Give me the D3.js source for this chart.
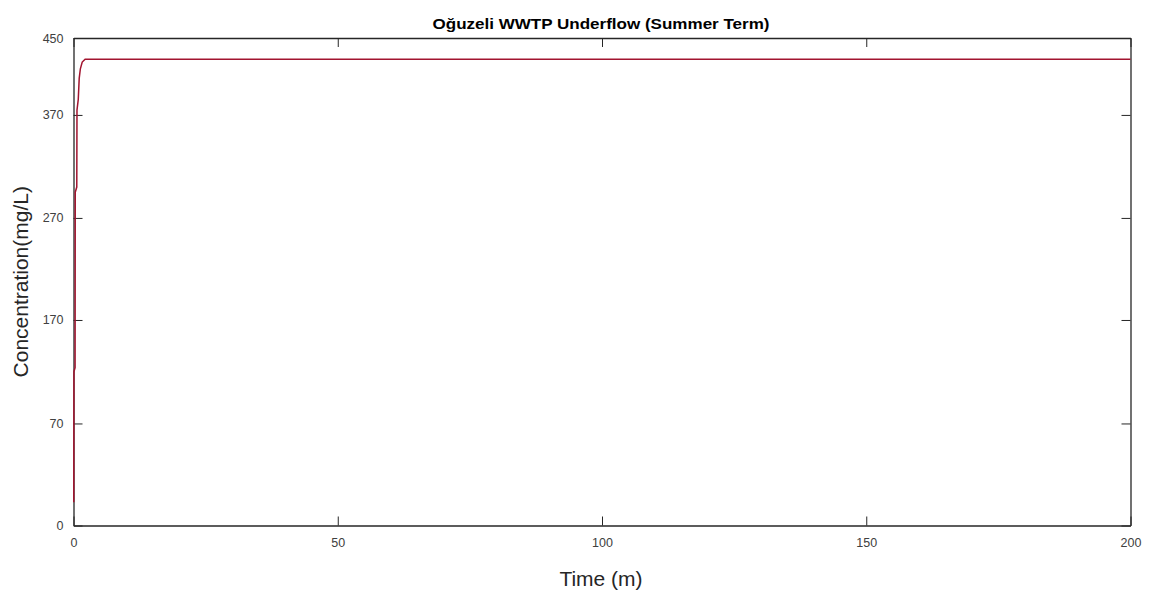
<!DOCTYPE html>
<html>
<head>
<meta charset="utf-8">
<script src="https://cdn.jsdelivr.net/npm/d3@7"></script>
<style>
  body { margin: 0; background: #fff; }
  svg { display: block; }
  text { font-family: "Liberation Sans", Arial, Helvetica, sans-serif; }
</style>
</head>
<body>
<svg id="chart" width="1153" height="592"></svg>
<script>
// Underflow concentration over time
const time = [0.05, 0.08, 0.30, 0.33, 0.62, 0.66, 0.90, 1.08, 1.30, 1.65, 2.2, 10, 50, 100, 150, 200];
const concentration = [16, 120, 124, 295, 300, 375, 386, 408, 418, 425, 428, 428, 428, 428, 428, 428];

const xTicks = [0, 50, 100, 150, 200];
const yTicks = [0, 70, 170, 270, 370, 450];
// vertical placement of each labelled tick, as fractions of the plot height
const yTickFrac = [0, 0.2093, 0.4216, 0.6309, 0.8422, 1];

const titleText = "Oğuzeli WWTP Underflow (Summer Term)";
const xLabel = "Time (m)";
const yLabel = "Concentration(mg/L)";

const W = 1153, H = 592;
const m = { left: 73.5, right: 22.5, top: 38, bottom: 66.5 };
const svg = d3.select("#chart");

const plotH = H - m.bottom - m.top;
const x = d3.scaleLinear().domain([0, 200]).range([m.left, W - m.right]);
// piecewise-linear value scale through the labelled ticks
const y = d3.scaleLinear().domain(yTicks).range(yTickFrac.map(f => H - m.bottom - f * plotH));

const axisColor = "#262626";
const tickLen = 9;

const gx = svg.append("g").attr("transform", `translate(0,${H - m.bottom})`)
  .call(d3.axisBottom(x).tickValues(xTicks).tickSizeInner(-tickLen).tickSizeOuter(0).tickPadding(13));
const gy = svg.append("g").attr("transform", `translate(${m.left},0)`)
  .call(d3.axisLeft(y).tickValues(yTicks).tickSizeInner(-tickLen).tickSizeOuter(0).tickPadding(10));
const gt = svg.append("g").attr("transform", `translate(0,${m.top})`)
  .call(d3.axisTop(x).tickValues(xTicks).tickSizeInner(-tickLen).tickSizeOuter(0).tickFormat(""));
const gr = svg.append("g").attr("transform", `translate(${W - m.right},0)`)
  .call(d3.axisRight(y).tickValues(yTicks).tickSizeInner(-tickLen).tickSizeOuter(0).tickFormat(""));

[gx, gy, gt, gr].forEach(g => {
  g.select(".domain").attr("stroke", axisColor).attr("stroke-width", 1.3);
  g.selectAll(".tick line").attr("stroke", axisColor).attr("stroke-width", 1);
  g.selectAll(".tick text").attr("fill", "#404040").style("font-size", "12.5px")
    .style("font-family", "'Liberation Sans', Arial, sans-serif");
});

// data line
svg.append("path")
  .datum(time.map((t, i) => [t, concentration[i]]))
  .attr("fill", "none")
  .attr("stroke", "#A2142F")
  .attr("stroke-width", 1.5)
  .attr("d", d3.line().x(d => x(d[0])).y(d => y(d[1])));

// title
svg.append("text")
  .attr("x", 601).attr("y", 29)
  .attr("text-anchor", "middle")
  .attr("fill", "#000")
  .style("font-size", "14px").style("font-weight", "bold")
  .attr("textLength", 337).attr("lengthAdjust", "spacingAndGlyphs")
  .text(titleText);

// axis labels
svg.append("text")
  .attr("x", 601).attr("y", 586)
  .attr("text-anchor", "middle")
  .attr("fill", "#262626")
  .style("font-size", "21px")
  .text(xLabel);

svg.append("text")
  .attr("transform", `translate(28,${(m.top + H - m.bottom) / 2}) rotate(-90)`)
  .attr("text-anchor", "middle")
  .attr("fill", "#262626")
  .style("font-size", "21px")
  .text(yLabel);
</script>
</body>
</html>
